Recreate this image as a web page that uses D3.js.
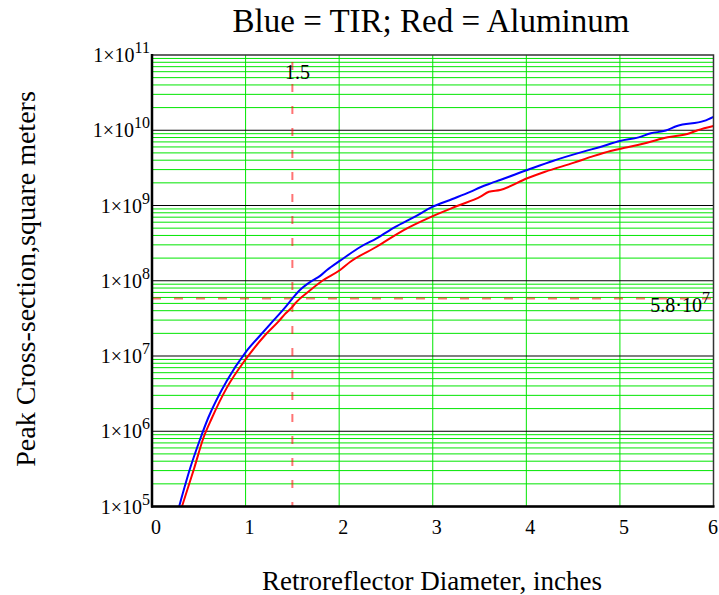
<!DOCTYPE html>
<html>
<head>
<meta charset="utf-8">
<script src="https://cdn.jsdelivr.net/npm/d3@7"></script>
<style>
  html, body { margin: 0; padding: 0; background: #fff; }
  svg text { font-family: "Liberation Serif", "Times New Roman", serif; fill: #000; }
</style>
</head>
<body>
<svg id="chart" width="719" height="595"></svg>
<script>
// ---------- data ----------
const titleText = "Blue = TIR; Red = Aluminum";
const xTitle = "Retroreflector Diameter, inches";
const yTitle = "Peak Cross-section,square meters";

const xTicks = [0, 1, 2, 3, 4, 5, 6];
const yDecadeExponents = [5, 6, 7, 8, 9, 10, 11];
const minorMultipliers = [2, 3, 4, 5, 6, 7, 8, 9];

// Blue = TIR
const tirDiameter = [0.29, 0.41, 0.51, 0.60, 0.80, 1.00, 1.16, 1.28, 1.40, 1.50, 1.57, 1.70, 1.80, 1.87, 2.01, 2.23, 2.40, 2.60, 2.80, 2.99, 3.21, 3.40, 3.51, 3.62, 3.72, 4.01, 4.29, 4.61, 4.79, 5.00, 5.20, 5.33, 5.49, 5.61, 5.90, 6.00];
const tirSigma = [1.0e5, 3.3e5, 7.6e5, 1.5e6, 4.7e6, 1.12e7, 1.9e7, 2.8e7, 4.1e7, 5.8e7, 7.3e7, 9.8e7, 1.17e8, 1.39e8, 1.85e8, 2.83e8, 3.66e8, 5.2e8, 7.0e8, 9.5e8, 1.22e9, 1.52e9, 1.75e9, 1.97e9, 2.18e9, 2.96e9, 3.94e9, 5.2e9, 6.0e9, 7.2e9, 8.05e9, 9.1e9, 9.9e9, 1.14e10, 1.33e10, 1.51e10];

// Red = Aluminum
const alDiameter = [0.32, 0.45, 0.55, 0.64, 0.80, 1.00, 1.21, 1.35, 1.42, 1.50, 1.53, 1.68, 1.82, 2.01, 2.12, 2.40, 2.69, 2.97, 3.26, 3.51, 3.60, 3.72, 4.01, 4.20, 4.51, 4.70, 4.90, 5.08, 5.29, 5.51, 5.72, 5.83, 6.00];
const alSigma = [1.0e5, 3.2e5, 8.2e5, 1.5e6, 3.8e6, 9.0e6, 1.9e7, 2.86e7, 3.6e7, 4.5e7, 5.0e7, 7.3e7, 1.0e8, 1.39e8, 1.79e8, 2.83e8, 4.72e8, 6.97e8, 9.84e8, 1.31e9, 1.52e9, 1.61e9, 2.30e9, 2.81e9, 3.71e9, 4.46e9, 5.30e9, 5.93e9, 6.84e9, 8.05e9, 8.91e9, 1.0e10, 1.14e10];

// markers
const markerDiameter = 1.5;
const markerSigma = 5.8e7;
const markerDiameterLabel = "1.5";
const markerSigmaMantissa = "5.8·10";
const markerSigmaExp = "7";

// ---------- layout ----------
const svg = d3.select("#chart");
const L = 152, R = 713.5, T = 55, B = 506.5;

const x = d3.scaleLinear().domain([0, 6]).range([L, R]);
const y = d3.scaleLog().domain([1e5, 1e11]).range([B, T]);

svg.append("defs").append("clipPath").attr("id", "plotclip")
  .append("rect").attr("x", L).attr("y", T).attr("width", R - L).attr("height", B - T);

// minor horizontal grid (green)
const minorVals = [];
yDecadeExponents.slice(0, -1).forEach(e => minorMultipliers.forEach(m => minorVals.push(m * Math.pow(10, e))));
svg.append("g").selectAll("line").data(minorVals).join("line")
  .attr("x1", L).attr("x2", R)
  .attr("y1", d => y(d)).attr("y2", d => y(d))
  .attr("stroke", "#00e600").attr("stroke-width", 1);

// vertical grid (green)
svg.append("g").selectAll("line").data(xTicks.slice(1, -1)).join("line")
  .attr("x1", d => x(d)).attr("x2", d => x(d))
  .attr("y1", T).attr("y2", B)
  .attr("stroke", "#00e600").attr("stroke-width", 1);

// decade lines (black)
svg.append("g").selectAll("line").data(yDecadeExponents.slice(1, -1).map(e => Math.pow(10, e))).join("line")
  .attr("x1", L).attr("x2", R)
  .attr("y1", d => y(d)).attr("y2", d => y(d))
  .attr("stroke", "#000").attr("stroke-width", 1);

// dashed marker lines
svg.append("line")
  .attr("x1", x(markerDiameter)).attr("x2", x(markerDiameter))
  .attr("y1", T + 7).attr("y2", B)
  .attr("stroke", "#ff0000").attr("stroke-opacity", 0.55).attr("stroke-width", 2)
  .attr("stroke-dasharray", "8,14");
svg.append("line")
  .attr("x1", L).attr("x2", R)
  .attr("y1", y(markerSigma)).attr("y2", y(markerSigma))
  .attr("stroke", "#ff0000").attr("stroke-opacity", 0.55).attr("stroke-width", 2)
  .attr("stroke-dasharray", "9,13");

// curves
const line = d3.line().curve(d3.curveMonotoneX).x(d => x(d[0])).y(d => y(d[1]));
const plot = svg.append("g").attr("clip-path", "url(#plotclip)");
plot.append("path").datum(d3.zip(tirDiameter, tirSigma))
  .attr("d", line).attr("fill", "none").attr("stroke", "#0000ff").attr("stroke-width", 2);
plot.append("path").datum(d3.zip(alDiameter, alSigma))
  .attr("d", line).attr("fill", "none").attr("stroke", "#ff0000").attr("stroke-width", 2);

// frame
svg.append("rect").attr("x", L).attr("y", T).attr("width", R - L).attr("height", B - T)
  .attr("fill", "none").attr("stroke", "#333").attr("stroke-width", 1.5);
svg.append("line").attr("x1", L).attr("x2", L).attr("y1", T - 1).attr("y2", B + 1)
  .attr("stroke", "#000").attr("stroke-width", 2.5);
svg.append("line").attr("x1", L - 1).attr("x2", R + 1).attr("y1", B).attr("y2", B)
  .attr("stroke", "#000").attr("stroke-width", 2.5);

// x tick labels
svg.append("g").selectAll("text").data(xTicks).join("text")
  .attr("x", d => Math.min(x(d) - 1, 708)).attr("y", 534)
  .attr("font-size", 20).attr("text-anchor", "start")
  .text(d => d);

// y tick labels
const yt = svg.append("g").selectAll("text").data(yDecadeExponents).join("text")
  .attr("x", 150).attr("y", d => y(Math.pow(10, d)) + 7)
  .attr("font-size", 20).attr("text-anchor", "end");
yt.append("tspan").text("1×10");
yt.append("tspan").attr("font-size", 16).attr("dy", -9).text(d => d);

// marker labels
svg.append("text").attr("x", x(markerDiameter) + 5).attr("y", 79)
  .attr("font-size", 20).attr("text-anchor", "middle").text(markerDiameterLabel);
const ml = svg.append("text").attr("x", 710).attr("y", 312)
  .attr("font-size", 20).attr("text-anchor", "end");
ml.append("tspan").text(markerSigmaMantissa);
ml.append("tspan").attr("font-size", 16).attr("dy", -9).text(markerSigmaExp);

// titles
svg.append("text").attr("x", 431).attr("y", 32)
  .attr("font-size", 33).attr("text-anchor", "middle").text(titleText);
svg.append("text").attr("x", 432).attr("y", 590)
  .attr("font-size", 27).attr("text-anchor", "middle").text(xTitle);
svg.append("text").attr("transform", "translate(35,279) rotate(-90)")
  .attr("font-size", 28).attr("text-anchor", "middle").text(yTitle);
</script>
</body>
</html>
